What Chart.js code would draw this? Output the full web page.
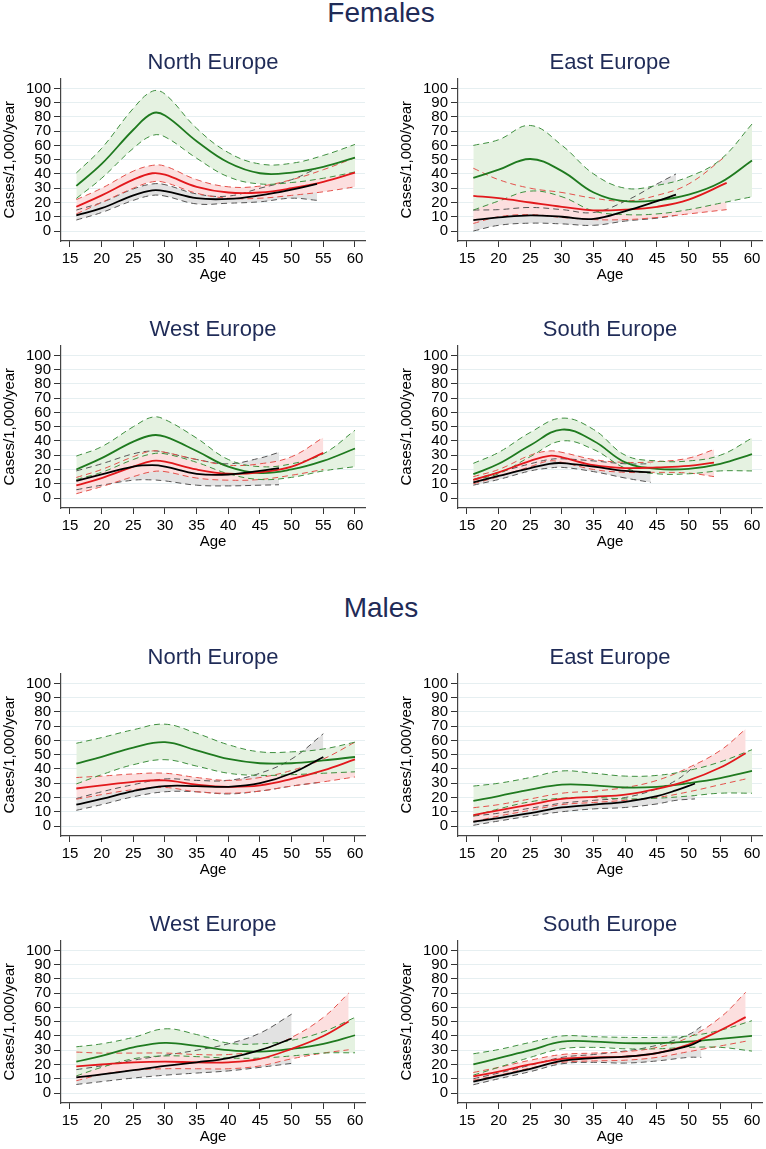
<!DOCTYPE html>
<html>
<head>
<meta charset="utf-8">
<script src="https://cdn.jsdelivr.net/npm/chart.js@4.4.1/dist/chart.umd.min.js"></script>
<style>
body { margin: 0; background: #fff; width: 766px; height: 1149px; overflow: hidden; position: relative; font-family: 'Liberation Sans', Arial, sans-serif; }
.group { position: absolute; left: -2px; width: 766px; text-align: center; font-size: 28px; line-height: 28px; color: #1f2b57; }
canvas { position: absolute; }
</style>
</head>
<body>
<div class="group" style="top:-1px">Females</div>
<div class="group" style="top:594px">Males</div>
<canvas id="fNorth" width="383" height="234" style="left:0;top:50px"></canvas>
<canvas id="fEast" width="369" height="234" style="left:397px;top:50px"></canvas>
<canvas id="fWest" width="383" height="234" style="left:0;top:317px"></canvas>
<canvas id="fSouth" width="369" height="234" style="left:397px;top:317px"></canvas>
<canvas id="mNorth" width="383" height="234" style="left:0;top:645px"></canvas>
<canvas id="mEast" width="369" height="234" style="left:397px;top:645px"></canvas>
<canvas id="mWest" width="383" height="234" style="left:0;top:912px"></canvas>
<canvas id="mSouth" width="369" height="234" style="left:397px;top:912px"></canvas>
<script>
var xTicks = [15, 20, 25, 30, 35, 40, 45, 50, 55, 60];
var yTicks = [0, 10, 20, 30, 40, 50, 60, 70, 80, 90, 100];

// Females - North Europe (G = green, R = red, B = black; Lo/Hi = dashed bounds)
var fnAgeG = [16, 20, 25, 28, 30, 35, 40, 45, 50, 55, 60];
var fnG   = [31.6, 47, 71, 82.5, 81, 63, 48, 40.5, 41, 45, 51.4];
var fnGLo = [22.8, 37, 58, 67, 66, 51, 38, 33, 34, 37, 41.4];
var fnGHi = [40.7, 58, 86, 98, 96, 72, 55, 47, 47.5, 53, 60.7];
var fnAgeR = [16, 20, 25, 28, 30, 35, 40, 45, 50, 55, 60];
var fnR   = [17, 25, 36, 40.5, 39.5, 31, 27, 27, 30, 34.5, 41];
var fnRLo = [12, 20, 30, 34.5, 34, 26.5, 23, 23, 25, 27.5, 31];
var fnRHi = [22, 30, 42, 46, 45.5, 36, 31, 31.5, 36, 43, 51.4];
var fnAgeB = [16, 20, 25, 28, 30, 35, 40, 45, 50, 54];
var fnB   = [11, 16, 25, 28.5, 28, 23, 22.5, 25, 29, 33];
var fnBLo = [7.7, 13, 21.5, 25, 24.5, 19, 19.5, 20.5, 23, 21.5];
var fnBHi = [14.7, 20, 29.5, 33, 32.5, 26, 24.5, 30, 36, 44];

// Females - East Europe
var feAgeG = [16, 20, 25, 30, 35, 40, 45, 50, 55, 60];
var feG   = [37.2, 43, 50.5, 42, 27, 21, 21.5, 25.5, 34, 49.5];
var feGLo = [14.7, 21, 28, 24, 14, 11.5, 12, 15, 19.5, 24];
var feGHi = [60, 64, 74, 60, 40, 30, 32, 38, 50, 75];
var feAgeR = [16, 20, 25, 30, 35, 40, 45, 50, 56];
var feR   = [24.7, 23, 20, 17, 14.5, 15, 17, 22, 33.7];
var feRLo = [5.3, 10, 11.5, 9.5, 8, 8, 9.5, 12, 15];
var feRHi = [44, 36, 30, 27, 23, 21, 25, 33, 53];
var feAgeB = [16, 20, 25, 30, 35, 40, 45, 48];
var feB   = [7.7, 9.5, 11, 10, 8.5, 14, 21, 25.5];
var feBLo = [0, 4, 5.5, 5, 4, 7, 9, 11];
var feBHi = [14.7, 15, 16.5, 15, 13, 21, 33, 40];

// Females - West Europe
var fwAgeG = [16, 20, 25, 28, 30, 35, 40, 45, 50, 55, 60];
var fwG   = [20, 28, 39.5, 44, 43, 33, 22, 17.5, 20, 26, 34.7];
var fwGLo = [13, 18, 27, 31, 31, 25, 17, 13, 14.5, 19, 22];
var fwGHi = [29.4, 36, 50, 56.7, 55, 42, 27, 22, 24, 31, 47.5];
var fwAgeR = [16, 20, 25, 28, 30, 35, 40, 45, 50, 55];
var fwR   = [8.8, 14, 22, 26, 25.5, 20, 17, 18, 22, 31.7];
var fwRLo = [3, 8, 15, 18.5, 18.5, 14, 12.5, 13, 16, 20];
var fwRHi = [14.4, 20, 29, 33, 32, 27, 23, 24, 29, 42.4];
var fwAgeB = [16, 20, 25, 28, 30, 35, 40, 45, 48];
var fwB   = [12, 16.5, 22, 23, 22, 17, 16.5, 19, 21];
var fwBLo = [5.8, 9, 12.5, 12.7, 12, 9, 8.5, 9, 9.3];
var fwBHi = [19, 24, 31, 33, 32, 27, 24, 28, 32];

// Females - South Europe
var fsAgeG = [16, 20, 25, 30, 35, 40, 45, 50, 55, 60];
var fsG   = [16.7, 24, 37, 48, 40, 25, 20.5, 20.5, 24, 30.8];
var fsGLo = [12.7, 17, 29, 40, 34, 21, 17, 17, 19, 19];
var fsGHi = [24.3, 32, 46, 56, 48, 30, 26, 26, 30, 42];
var fsAgeR = [16, 20, 25, 28, 30, 35, 40, 45, 50, 54];
var fsR   = [12.7, 18, 26, 29.6, 28.5, 23, 21, 21.5, 22.5, 24.8];
var fsRLo = [10, 15, 22, 26, 25, 20, 18, 18, 17.5, 15];
var fsRHi = [15, 20, 30, 33, 32, 27, 25, 25.5, 28, 34];
var fsAgeB = [16, 20, 25, 28, 30, 35, 40, 44];
var fsB   = [11, 15.5, 21, 24, 24.5, 22, 19, 18];
var fsBLo = [9, 13, 19, 21, 21.5, 18.5, 14, 11];
var fsBHi = [13, 18, 24, 27, 27.5, 26, 24, 24];

// Males - North Europe
var mnAgeG = [16, 20, 25, 30, 35, 40, 45, 50, 55, 60];
var mnG   = [43.7, 48.5, 55, 58.8, 53, 47, 44, 44, 46, 48.4];
var mnGLo = [29.5, 36, 43, 46.5, 42, 37, 35.5, 36, 37, 38];
var mnGHi = [58, 62, 67.5, 71.4, 65, 57, 52, 52, 54, 58.8];
var mnAgeR = [16, 20, 25, 30, 35, 40, 45, 50, 55, 60];
var mnR   = [26.3, 28.5, 31, 32, 29, 27.5, 28.5, 33, 39, 46.7];
var mnRLo = [18.8, 22, 25.5, 27, 24, 23, 24.5, 28, 31, 34.4];
var mnRHi = [34, 35, 36.5, 37, 34, 32, 34, 39, 47, 58.8];
var mnAgeB = [16, 20, 25, 30, 35, 40, 45, 50, 55];
var mnB   = [15, 19, 24.5, 28, 28, 27.5, 30, 37, 48.4];
var mnBLo = [11, 15, 20.5, 24, 24, 22.5, 24.5, 28, 31];
var mnBHi = [19.3, 24, 29, 33, 32, 32, 37, 47, 64.7];

// Males - East Europe
var meAgeG = [16, 20, 25, 30, 35, 40, 45, 50, 55, 60];
var meG   = [17.7, 21, 25.5, 29, 28.5, 27, 27.5, 30, 33.5, 38.6];
var meGLo = [7, 12, 17, 19.5, 20, 19, 19.5, 21, 23, 23];
var meGHi = [28, 30, 34, 38.6, 37, 35, 35.5, 39, 45, 53.5];
var meAgeR = [16, 20, 25, 30, 35, 40, 45, 50, 55, 59];
var meR   = [7.7, 11, 15, 19, 20.5, 22, 26, 32, 41, 51];
var meRLo = [3, 7, 11, 15, 16.5, 18, 20, 24, 29, 33];
var meRHi = [12.8, 15, 19, 23, 24.5, 27, 32, 41, 53, 68];
var meAgeB = [16, 20, 25, 30, 35, 40, 45, 48, 51];
var meB   = [3, 5.5, 9, 13, 15, 17, 21, 25, 29.8];
var meBLo = [0.5, 3.5, 7, 10, 12, 13, 15.5, 18, 19];
var meBHi = [7, 9, 12.5, 16, 18, 20, 26, 32, 42];

// Males - West Europe
var mwAgeG = [16, 20, 25, 30, 35, 40, 45, 50, 55, 60];
var mwG   = [22, 26, 32, 35.2, 33, 30, 29, 31, 34.5, 40.5];
var mwGLo = [12, 18, 24, 26, 25.5, 24.5, 24.5, 26, 28, 28.2];
var mwGHi = [32.4, 34.5, 39, 45, 41, 35, 34.5, 37, 43, 53];
var mwAgeR = [16, 20, 25, 30, 35, 40, 45, 50, 55, 59];
var mwR   = [18.7, 20, 21.5, 22, 21.5, 21.5, 24, 31, 40, 50.2];
var mwRLo = [8.6, 13, 16, 17, 17, 17, 19, 24, 28, 30.3];
var mwRHi = [28.7, 28, 28, 28, 27, 27, 30, 39, 53, 70];
var mwAgeB = [16, 20, 25, 30, 35, 40, 45, 50];
var mwB   = [10.9, 13, 16, 19, 21.5, 24.5, 30, 38.2];
var mwBLo = [6, 8, 10.5, 12.5, 14, 15.5, 18, 20.8];
var mwBHi = [16.4, 19, 23, 26.5, 30, 34.5, 42, 55.3];

// Males - South Europe
var msAgeG = [16, 20, 25, 30, 35, 40, 45, 50, 55, 60];
var msG   = [20, 24.5, 30, 36, 36, 35, 35, 36, 38, 40];
var msGLo = [12.5, 18, 25, 31, 32, 31, 31, 32, 32, 29.4];
var msGHi = [27.5, 30.5, 35.5, 40, 39.5, 39, 39, 40, 44, 50.7];
var msAgeR = [16, 20, 25, 30, 35, 40, 45, 50, 55, 59];
var msR   = [11.6, 15, 20, 24, 25, 25.5, 28, 34, 44, 53.2];
var msRLo = [9, 12.5, 17.5, 21.5, 22.5, 23, 25, 29, 33, 36.3];
var msRHi = [14.4, 18, 23, 27, 28, 29, 32, 39, 53, 70.6];
var msAgeB = [16, 20, 25, 30, 35, 40, 45, 50, 52];
var msB   = [8, 12, 17, 22.5, 24.5, 25.5, 28, 33, 37];
var msBLo = [5.8, 10, 15, 20.5, 21.5, 21, 22.5, 25, 25];
var msBHi = [10, 14, 19.5, 25, 27, 29.5, 33.5, 41, 46.7];

var fontFam = "'Liberation Sans', Arial, Helvetica, sans-serif";
var colGreen = '#1f7a1f', colRed = '#e2181c', colBlack = '#000000';
var dashGreen = '#3f8f3f', dashRed = '#e4514b', dashGray = '#555555';
var fillGreen = 'rgb(229,242,225)', fillRed = 'rgb(252,223,223)', fillGray = 'rgb(226,226,226)';

function pts(ages, vals) {
    return vals.map(function (v, i) { return { x: ages[i], y: v }; });
}

function solid(ages, vals, color) {
    return { data: pts(ages, vals), borderColor: color, borderWidth: 1.8, pointRadius: 0,
             fill: false, tension: 0.4 };
}

function dashed(ages, vals, color, fillTo, fillColor) {
    return { data: pts(ages, vals), borderColor: color, borderWidth: 1, borderDash: [6, 4],
             pointRadius: 0, tension: 0.4,
             fill: fillTo === undefined ? false : fillTo,
             backgroundColor: fillColor || 'transparent' };
}

function panel(id, title, rightCol, ageG, g, gLo, gHi, ageR, r, rLo, rHi, ageB, b, bLo, bHi) {
    var datasets = [
        solid(ageB, b, colBlack),
        solid(ageR, r, colRed),
        solid(ageG, g, colGreen),
        dashed(ageG, gLo, dashGreen),
        dashed(ageG, gHi, dashGreen, 3, fillGreen),
        dashed(ageR, rLo, dashRed),
        dashed(ageR, rHi, dashRed, 5, fillRed),
        dashed(ageB, bLo, dashGray),
        dashed(ageB, bHi, dashGray, 7, fillGray)
    ];
    return new Chart(document.getElementById(id), {
        type: 'line',
        data: { datasets: datasets },
        options: {
            responsive: false,
            animation: false,
            layout: { padding: { top: 0, left: 0, bottom: 0, right: rightCol ? 4 : 18 } },
            plugins: {
                legend: { display: false },
                tooltip: { enabled: false },
                filler: { drawTime: 'beforeDatasetsDraw' },
                title: {
                    display: true, text: title, color: '#1f2b57', fullSize: false,
                    font: { family: fontFam, size: 22, weight: 'normal' },
                    padding: { top: 0, bottom: 2 }
                }
            },
            scales: {
                x: {
                    type: 'linear', min: 13.58, max: 61.58,
                    afterBuildTicks: function (ax) { ax.ticks = xTicks.map(function (v) { return { value: v }; }); },
                    afterFit: function (ax) { ax.height = 43; },
                    ticks: { color: '#000', font: { family: fontFam, size: 15 }, padding: 3,
                             maxRotation: 0, autoSkip: false },
                    grid: { drawOnChartArea: false, tickColor: '#333', tickLength: 6 },
                    border: { color: '#444', width: 1.2 },
                    title: { display: true, text: 'Age', color: '#000',
                             font: { family: fontFam, size: 15 }, padding: { top: 0, bottom: 0 } }
                },
                y: {
                    min: -7, max: 107,
                    afterBuildTicks: function (ax) { ax.ticks = yTicks.map(function (v) { return { value: v }; }); },
                    afterFit: function (ax) { ax.width = 61; },
                    ticks: { color: '#000', font: { family: fontFam, size: 15 }, padding: 3, autoSkip: false },
                    grid: { color: '#e6eff1', tickColor: '#333', tickLength: 7 },
                    border: { color: '#444', width: 1.2 },
                    title: { display: true, text: 'Cases/1,000/year', color: '#000',
                             font: { family: fontFam, size: 15 }, padding: { top: 1, bottom: 0 } }
                }
            }
        }
    });
}

panel('fNorth', 'North Europe', false, fnAgeG, fnG, fnGLo, fnGHi, fnAgeR, fnR, fnRLo, fnRHi, fnAgeB, fnB, fnBLo, fnBHi);
panel('fEast', 'East Europe', true, feAgeG, feG, feGLo, feGHi, feAgeR, feR, feRLo, feRHi, feAgeB, feB, feBLo, feBHi);
panel('fWest', 'West Europe', false, fwAgeG, fwG, fwGLo, fwGHi, fwAgeR, fwR, fwRLo, fwRHi, fwAgeB, fwB, fwBLo, fwBHi);
panel('fSouth', 'South Europe', true, fsAgeG, fsG, fsGLo, fsGHi, fsAgeR, fsR, fsRLo, fsRHi, fsAgeB, fsB, fsBLo, fsBHi);
panel('mNorth', 'North Europe', false, mnAgeG, mnG, mnGLo, mnGHi, mnAgeR, mnR, mnRLo, mnRHi, mnAgeB, mnB, mnBLo, mnBHi);
panel('mEast', 'East Europe', true, meAgeG, meG, meGLo, meGHi, meAgeR, meR, meRLo, meRHi, meAgeB, meB, meBLo, meBHi);
panel('mWest', 'West Europe', false, mwAgeG, mwG, mwGLo, mwGHi, mwAgeR, mwR, mwRLo, mwRHi, mwAgeB, mwB, mwBLo, mwBHi);
panel('mSouth', 'South Europe', true, msAgeG, msG, msGLo, msGHi, msAgeR, msR, msRLo, msRHi, msAgeB, msB, msBLo, msBHi);
</script>
</body>
</html>
